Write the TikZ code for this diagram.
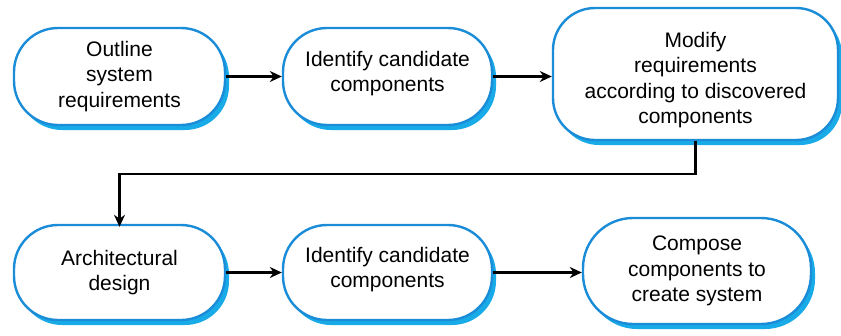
\documentclass[tikz,border=0pt]{standalone}
\usepackage{fontspec}
\setmainfont{Liberation Sans}
\usetikzlibrary{arrows.meta,shadows,calc}
\definecolor{edgeblue}{HTML}{1B8CD8}
\definecolor{shadeblue}{HTML}{19AAE8}
% invisible struts that nudge a text block up or down inside its box
\newcommand{\lowerby}{\rule{0pt}{27pt}}
\newcommand{\raiseby}{\rule[-10pt]{0pt}{0pt}}
\begin{document}
\begin{tikzpicture}[x=1pt,y=-1pt,
  stage/.style={draw=edgeblue, line width=2.4pt, fill=white, rounded corners=44pt,
    align=center, inner sep=0pt,
    font=\fontsize{21}{25.5}\selectfont,
    general shadow={fill=shadeblue, shadow xshift=4pt, shadow yshift=-5pt}},
  flow/.style={line width=2.6pt, -{Stealth[length=12pt,width=11pt]}}]
  \useasboundingbox (0,0) rectangle (841,335);
  % top row
  \node[stage, minimum width=211pt, minimum height=97pt] (req) at (119.5,76.5)
    {Outline\\system\\requirements};
  \node[stage, minimum width=209pt, minimum height=97pt] (cand1) at (387.5,76.5)
    {Identify candidate\\components\raiseby};
  \node[stage, minimum width=285pt, minimum height=132pt, rounded corners=42pt] (mod) at (695.5,74)
    {\lowerby Modify\\requirements\\according to discovered\\components};
  % bottom row
  \node[stage, minimum width=211pt, minimum height=95pt] (arch) at (119.5,272.5)
    {Architectural\\design};
  \node[stage, minimum width=209pt, minimum height=95pt] (cand2) at (387.5,272.5)
    {Identify candidate\\components\raiseby};
  \node[stage, minimum width=228pt, minimum height=106pt, rounded corners=50pt] (comp) at (697,271)
    {Compose\\components to\\create system};
  % connectors
  \draw[flow] (req.east) -- (cand1.west);
  \draw[flow] (cand1.east) -- (mod.west |- cand1.east);
  \coordinate (turn) at (698,174);
  \draw[flow] (mod.south) -- (mod.south |- turn) -| ([yshift=-3pt]arch.north);
  \draw[flow] (arch.east) -- (cand2.west);
  \draw[flow] (cand2.east) -- (comp.west |- cand2.east);
\end{tikzpicture}
\end{document}
